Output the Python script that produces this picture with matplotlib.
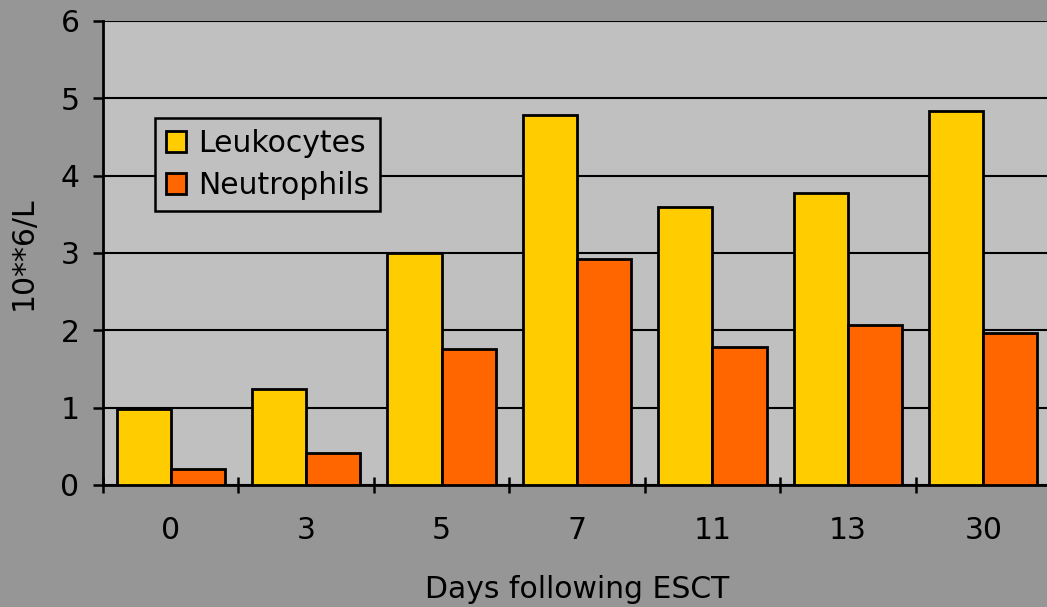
import matplotlib

matplotlib.use("Agg")
import matplotlib.pyplot as plt
import numpy as np

plt.rcParams["font.family"] = ["DejaVu Sans"]

# Data
days = ["0", "3", "5", "7", "11", "13", "30"]
leukocytes = [0.98, 1.24, 3.00, 4.79, 3.60, 3.78, 4.84]
neutrophils = [0.21, 0.41, 1.76, 2.92, 1.79, 2.07, 1.97]

FS = 21.5

fig = plt.figure(figsize=(10.47, 6.07), dpi=100)
fig.patch.set_facecolor("#969696")

# plot area runs a bit past the right edge of the picture, like the original
ax = fig.add_axes([103 / 1047, 122 / 607, 948 / 1047, 464 / 607])
ax.set_facecolor("#c0c0c0")

x = np.arange(len(days))
w = 0.4
ax.bar(x - w / 2, leukocytes, w, color="#ffcc00", edgecolor="black",
       linewidth=2.0, label="Leukocytes", zorder=3)
ax.bar(x + w / 2, neutrophils, w, color="#ff6600", edgecolor="black",
       linewidth=2.0, label="Neutrophils", zorder=3)

ax.set_xlim(-0.5, len(days) - 0.5)
ax.set_ylim(0, 6)
ax.set_yticks(range(7))
ax.yaxis.grid(True, color="black", linewidth=1.5, zorder=0)
ax.set_axisbelow(True)

# category labels centered, ticks on the boundaries
ax.set_xticks(np.arange(len(days) + 1) - 0.5)
ax.set_xticklabels([])
ax.set_xticks(x, minor=True)
ax.set_xticklabels(days, minor=True, fontsize=FS)
ax.tick_params(axis="x", which="minor", length=0, pad=22)
ax.tick_params(axis="x", which="major", direction="inout", length=12,
               width=1.8)
ax.tick_params(axis="y", direction="out", length=7, width=1.8,
               labelsize=FS, pad=10)

for side in ["top", "right"]:
    ax.spines[side].set_visible(False)
for side in ["left", "bottom"]:
    ax.spines[side].set_linewidth(2)

ax.set_xlabel("Days following ESCT", fontsize=FS, labelpad=22)
ax.set_ylabel("10**6/L", fontsize=FS, labelpad=16)

leg = ax.legend(loc="upper left", bbox_to_anchor=(0.055, 0.79),
                borderaxespad=0, fontsize=FS, fancybox=False,
                edgecolor="black", facecolor="#c0c0c0", framealpha=1,
                handlelength=0.7, handleheight=0.7, handletextpad=0.4,
                labelspacing=0.45, borderpad=0.35)
leg.get_frame().set_linewidth(1.8)

fig.savefig("out.png", dpi=100, facecolor=fig.get_facecolor())
